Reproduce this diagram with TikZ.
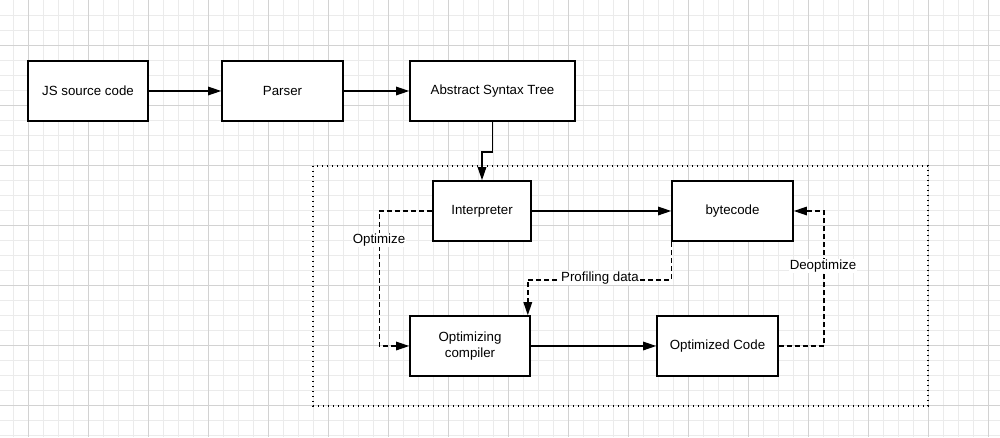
\documentclass[tikz,border=0pt]{standalone}
\usepackage{fontspec}
\setmainfont{Liberation Sans}
\usetikzlibrary{arrows.meta}
\definecolor{gridminor}{HTML}{EBEBEB}
\definecolor{gridmajor}{HTML}{D2D2D2}
\tikzset{
  box/.style={draw=black, line width=1.6pt, fill=white, inner sep=2pt, align=center,
    font=\fontsize{13.3}{15.5}\selectfont},
  arr/.style={line width=1.4pt, -{Triangle[length=13pt,width=8.5pt]}},
  darr/.style={arr, dash pattern=on 5pt off 3pt},
  lbl/.style={fill=white, inner sep=1pt, font=\fontsize{13.3}{15.5}\selectfont},
  container/.style={line width=1.3pt, dash pattern=on 1.3pt off 3.7pt}
}
\begin{document}
\begin{tikzpicture}[x=1pt,y=-1pt]
\useasboundingbox (0,0) rectangle (1000,437);
\fill[white] (0,0) rectangle (1000,437);
% grid
\foreach \i in {0,...,66} \draw[gridminor, line width=0.8pt] (13.33+15*\i,0) -- (13.33+15*\i,437);
\foreach \j in {1,...,29} \draw[gridminor, line width=0.8pt] (0,15*\j) -- (1000,15*\j);
\foreach \i in {0,...,16} \draw[gridmajor, line width=0.8pt] (28.33+60*\i,0) -- (28.33+60*\i,437);
\foreach \j in {0,...,6} \draw[gridmajor, line width=0.8pt] (0,45+60*\j) -- (1000,45+60*\j);
% container
\draw[container] (313,166) rectangle (928,406);
% nodes
\node[box, minimum width=120pt, minimum height=60pt] (js) at (88,91) {JS source code};
\node[box, minimum width=121pt, minimum height=60pt] (parser) at (282.5,91) {Parser};
\node[box, minimum width=165pt, minimum height=60pt] (ast) at (492.5,91) {Abstract Syntax Tree};
\node[box, minimum width=98pt, minimum height=60pt] (interp) at (482,211) {Interpreter};
\node[box, minimum width=121pt, minimum height=60pt] (bytecode) at (732.5,211) {bytecode};
\node[box, minimum width=120pt, minimum height=60pt] (optc) at (470,346) {Optimizing\\compiler};
\node[box, minimum width=121pt, minimum height=60pt] (optcode) at (717.5,346) {Optimized Code};
% connectors
\draw[arr] (js.east) -- (parser.west);
\draw[arr] (parser.east) -- (ast.west);
\draw[arr] (ast.south) -- ++(0,30) -| (interp.north);
\draw[arr] (interp.east) -- (bytecode.west);
\draw[arr] (optc.east) -- (optcode.west);
\draw[darr] (interp.west) -- ++(-53,0) |- (optc.west);
\draw[darr] (bytecode.south west) -- ++(0,38) -| ([xshift=-3pt]optc.north east);
\draw[darr] (optcode.east) -- ++(45,0) |- (bytecode.east);
% labels
\node[lbl] (optlbl) at (379,240) {Optimize};
\node[lbl] (proflbl) at (600,278) {Profiling data};
\node[lbl] (deoptlbl) at (823,266) {Deoptimize};
\end{tikzpicture}
\end{document}
